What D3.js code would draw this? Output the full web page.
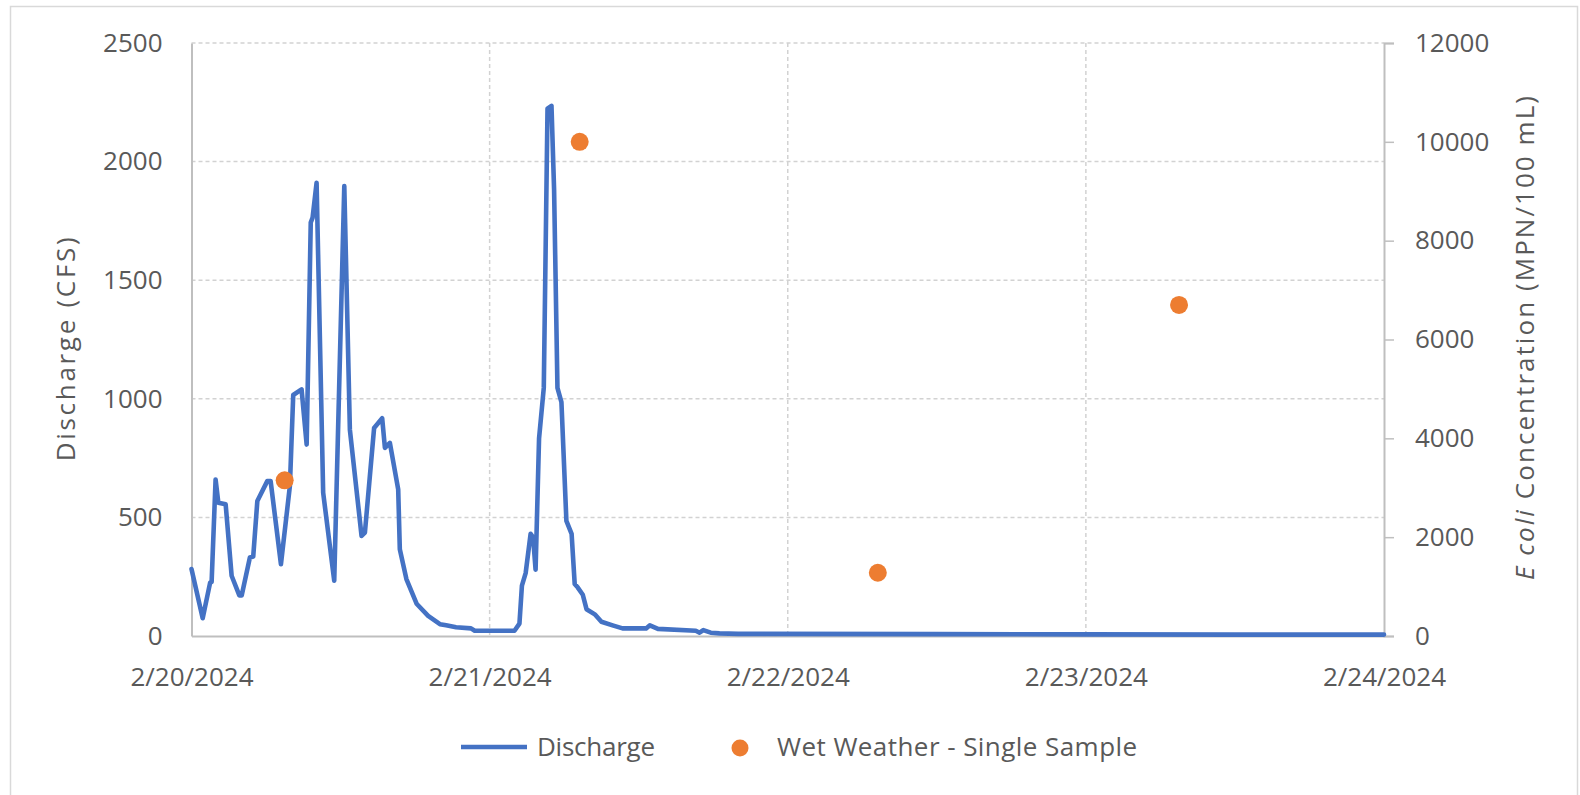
<!DOCTYPE html>
<html>
<head>
<meta charset="utf-8">
<script src="https://cdn.jsdelivr.net/npm/d3@7"></script>
<style>
  html, body { margin: 0; padding: 0; background: #fff; }
  svg { display: block; font-family: "Open Sans", "Noto Sans", sans-serif; }
</style>
</head>
<body>
<svg id="chart" width="1580" height="795"></svg>
<script>
// Discharge record: hours since 2/20/2024 00:00 and flow in CFS
const flowHours = [0, 0.9, 1.5, 1.62, 1.94, 2.16, 2.75, 3.23, 3.85, 4.04, 4.7, 4.97, 5.3, 6.1, 6.37,
  7.2, 7.92, 8.19, 8.86, 9.27, 9.6, 9.75, 10.07, 10.6, 11.49, 12.3, 12.75, 13.69, 13.96, 14.7,
  15.35, 15.57, 15.97, 16.64, 16.77, 17.3, 18.12, 19.05, 20.0, 20.5, 21.3, 22.5, 22.8, 26.0,
  26.4, 26.6, 26.9, 27.3, 27.5, 27.7, 27.98, 28.36, 28.66, 28.98, 29.19, 29.46, 29.78, 30.18,
  30.6, 30.85, 31.1, 31.5, 31.8, 32.5, 33.0, 33.9, 34.7, 36.6, 36.9, 37.55, 40.6, 40.9, 41.2,
  41.8, 42.5, 44, 60, 72, 84, 96];
const flowCfs = [282, 75, 225, 228, 660, 562, 555, 254, 171, 171, 331, 335, 569, 653, 653,
  303, 632, 1016, 1040, 807, 1743, 1764, 1911, 604, 233, 1897, 870, 422, 436, 877,
  918, 793, 814, 618, 366, 240, 136, 85, 50, 45, 37, 32, 22, 22,
  52, 212, 265, 431, 416, 280, 834, 1046, 2223, 2235, 1881, 1046, 986, 485,
  431, 219, 204, 174, 113, 90, 60, 45, 32, 32, 45, 30, 22, 14, 25,
  14, 11, 9, 8, 7, 6, 6];

// Wet weather single samples: hours since 2/20/2024 00:00 and E. coli (MPN/100 mL)
const sampleHours = [7.5, 31.25, 55.25, 79.5];
const sampleEcoli = [3150, 10000, 1280, 6700];

// Axis ticks
const dischargeTicks = [0, 500, 1000, 1500, 2000, 2500];
const ecoliTicks = [0, 2000, 4000, 6000, 8000, 10000, 12000];
const dateTicks = ["2024-02-20", "2024-02-21", "2024-02-22", "2024-02-23", "2024-02-24"];

const start = new Date(2024, 1, 20, 0, 0);
const toDate = h => new Date(start.getTime() + h * 3600 * 1000);
const parseDay = s => { const [y, m, d] = s.split("-").map(Number); return new Date(y, m - 1, d); };
const fmtDate = d3.timeFormat("%-m/%-d/%Y");

const svg = d3.select("#chart");
const W = 1580, H = 795;
const plot = { left: 191.5, right: 1384, top: 43, bottom: 636 };

const textColor = "#595959";
const axisColor = "#bfbfbf";
const gridColor = "#d2d2d2";
const fontSize = 26;

svg.append("rect").attr("width", W).attr("height", H).attr("fill", "#fff");
// outer chart frame
svg.append("rect")
  .attr("x", 10.5).attr("y", 6.5).attr("width", 1567).attr("height", 820)
  .attr("fill", "none").attr("stroke", "#d9d9d9").attr("stroke-width", 1.5);

const x = d3.scaleTime()
  .domain([parseDay(dateTicks[0]), parseDay(dateTicks[dateTicks.length - 1])])
  .range([plot.left, plot.right]);
const yL = d3.scaleLinear().domain([0, 2500]).range([plot.bottom, plot.top]);
const yR = d3.scaleLinear().domain([0, 12000]).range([plot.bottom, plot.top]);

// gridlines
const grid = svg.append("g");
grid.selectAll("line.h").data(dischargeTicks.filter(v => v > 0)).join("line")
  .attr("x1", plot.left).attr("x2", plot.right)
  .attr("y1", d => yL(d)).attr("y2", d => yL(d))
  .attr("stroke", gridColor).attr("stroke-width", 1.5).attr("stroke-dasharray", "4,3");
grid.selectAll("line.v").data(dateTicks.slice(1, -1).map(parseDay)).join("line")
  .attr("x1", d => x(d)).attr("x2", d => x(d))
  .attr("y1", plot.top).attr("y2", plot.bottom)
  .attr("stroke", gridColor).attr("stroke-width", 1.5).attr("stroke-dasharray", "4,3");

function styleAxis(g) {
  g.select(".domain").attr("stroke", axisColor).attr("stroke-width", 2);
  g.selectAll(".tick line").attr("stroke", axisColor).attr("stroke-width", 1.5);
  g.selectAll(".tick text").attr("fill", textColor)
    .style("font-size", fontSize + "px").style("font-family", "'Open Sans', sans-serif");
}

// left axis (discharge)
svg.append("g")
  .attr("transform", `translate(${plot.left},0)`)
  .call(d3.axisLeft(yL).tickValues(dischargeTicks).tickSize(0).tickPadding(29).tickFormat(d3.format("d")))
  .call(styleAxis);

// right axis (E. coli)
svg.append("g")
  .attr("transform", `translate(${plot.right},0)`)
  .call(d3.axisRight(yR).tickValues(ecoliTicks).tickSizeOuter(0).tickSize(10).tickPadding(21).tickFormat(d3.format("d")))
  .call(styleAxis);

// bottom axis (dates)
svg.append("g")
  .attr("transform", `translate(0,${plot.bottom})`)
  .call(d3.axisBottom(x).tickValues(dateTicks.map(parseDay)).tickSize(0).tickPadding(32).tickFormat(fmtDate))
  .call(styleAxis);

// discharge line
const flow = flowHours.map((h, i) => ({ t: toDate(h), v: flowCfs[i] }));
svg.append("path")
  .datum(flow)
  .attr("fill", "none")
  .attr("stroke", "#4472C4")
  .attr("stroke-width", 4.6)
  .attr("stroke-linejoin", "round")
  .attr("stroke-linecap", "round")
  .attr("d", d3.line().x(d => x(d.t)).y(d => yL(d.v)));

// sample points
const samples = sampleHours.map((h, i) => ({ t: toDate(h), v: sampleEcoli[i] }));
svg.append("g").selectAll("circle").data(samples).join("circle")
  .attr("cx", d => x(d.t)).attr("cy", d => yR(d.v)).attr("r", 9)
  .attr("fill", "#ED7D31");

// stretch a text element to a given width with letter spacing
function fitWidth(sel, target) {
  const node = sel.node();
  const natural = node.getComputedTextLength();
  const n = node.textContent.length;
  if (n > 1) sel.attr("letter-spacing", ((target - natural) / (n - 1)).toFixed(2));
}

// axis titles
const leftTitle = svg.append("text")
  .attr("transform", "translate(66,348) rotate(-90)")
  .attr("text-anchor", "middle").attr("dy", "0.35em")
  .attr("fill", textColor).style("font-size", fontSize + "px")
  .text("Discharge (CFS)");
fitWidth(leftTitle, 224);

const rightTitle = svg.append("text")
  .attr("transform", "translate(1525,337) rotate(-90)")
  .attr("text-anchor", "middle").attr("dy", "0.35em")
  .attr("fill", textColor).style("font-size", fontSize + "px");
rightTitle.append("tspan").attr("font-style", "italic").text("E coli");
rightTitle.append("tspan").text(" Concentration (MPN/100 mL)");
fitWidth(rightTitle, 484);

// legend
const legendY = 747;
const legend = svg.append("g");
legend.append("line")
  .attr("x1", 461).attr("x2", 527).attr("y1", legendY).attr("y2", legendY)
  .attr("stroke", "#4472C4").attr("stroke-width", 4.6);
const lt1 = legend.append("text")
  .attr("x", 537).attr("y", legendY).attr("dy", "0.35em")
  .attr("fill", textColor).style("font-size", fontSize + "px")
  .text("Discharge");
fitWidth(lt1, 118);
legend.append("circle").attr("cx", 740).attr("cy", legendY + 1).attr("r", 8.5).attr("fill", "#ED7D31");
const lt2 = legend.append("text")
  .attr("x", 777).attr("y", legendY).attr("dy", "0.35em")
  .attr("fill", textColor).style("font-size", fontSize + "px")
  .text("Wet Weather - Single Sample");
fitWidth(lt2, 360);
</script>
</body>
</html>
